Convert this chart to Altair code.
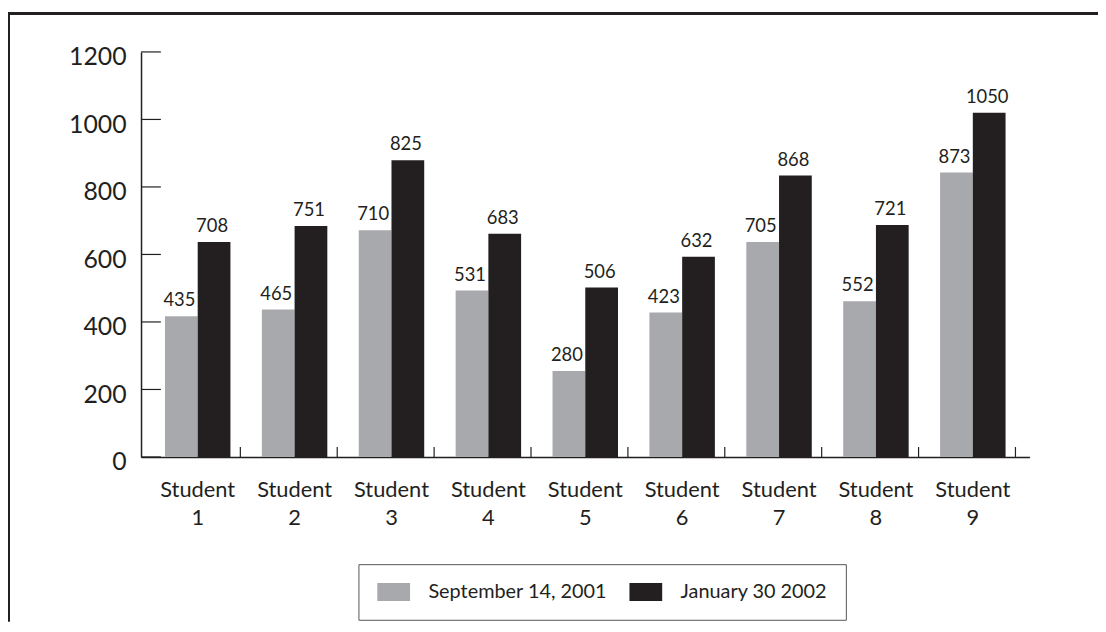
import altair as alt
import pandas as pd

# ---- data ----
students = ["Student 1", "Student 2", "Student 3", "Student 4", "Student 5",
            "Student 6", "Student 7", "Student 8", "Student 9"]
series = ["September 14, 2001", "January 30 2002"]
# bar heights as drawn
sep_bar = [417, 437, 672, 493, 255, 428, 637, 461, 843]
jan_bar = [637, 684, 879, 661, 502, 593, 834, 687, 1020]
# value labels as printed
sep_label = ["435", "465", "710", "531", "280", "423", "705", "552", "873"]
jan_label = ["708", "751", "825", "683", "506", "632", "868", "721", "1050"]
y_ticks = [0, 200, 400, 600, 800, 1000, 1200]

GRAY = "#a7a9ac"
BLACK = "#231f20"
FONT = "Lato"

rows = []
for s, v, l in zip(students, sep_bar, sep_label):
    rows.append({"student": s, "series": series[0], "value": v, "label": l})
for s, v, l in zip(students, jan_bar, jan_label):
    rows.append({"student": s, "series": series[1], "value": v, "label": l})
df = pd.DataFrame(rows)

W, H = 895, 408
PL, PT, PR, PB = 134, 42, 69, 166

x_enc = alt.X("student:N", sort=students,
              scale=alt.Scale(paddingInner=0, paddingOuter=0.085),
              axis=alt.Axis(title=None, ticks=False, labelAngle=0,
                            labelExpr="split(datum.label, ' ')",
                            labelFont=FONT, labelFontSize=22,
                            labelLineHeight=28, labelColor=BLACK,
                            labelPadding=23, domainColor=BLACK,
                            domainWidth=1.5))
y_enc = alt.Y("value:Q",
              scale=alt.Scale(domain=[0, 1200], nice=False),
              axis=alt.Axis(title=None, values=y_ticks, ticks=False,
                            format="d",
                            grid=False, labelFont=FONT, labelFontSize=25,
                            labelColor=BLACK, labelPadding=15,
                            labelOffset=5, domainColor=BLACK,
                            domainWidth=1.5))
xoff = alt.XOffset("series:N", sort=series,
                   scale=alt.Scale(domain=series, paddingOuter=0.48,
                                   paddingInner=0))

base = alt.Chart(df)

bars = base.mark_bar(cornerRadius=0).encode(
    x=x_enc,
    y=y_enc,
    xOffset=xoff,
    color=alt.Color("series:N", sort=series,
                    scale=alt.Scale(domain=series, range=[GRAY, BLACK]),
                    legend=alt.Legend(
                        orient="none", legendX=219, legendY=516,
                        direction="horizontal", title=None,
                        strokeColor="#555555", padding=18,
                        symbolType="M-1.833,-1H1.833V1H-1.833Z",
                        symbolSize=324, symbolOffset=7.5,
                        symbolStrokeWidth=0, symbolOpacity=1,
                        labelOffset=25, columnPadding=21,
                        labelFont=FONT, labelFontSize=20,
                        labelColor=BLACK, labelLimit=400)),
)

labels = base.mark_text(font=FONT, fontSize=18.5, color=BLACK,
                        baseline="alphabetic", align="center",
                        dy=-10, dx=-2).encode(
    x=alt.X("student:N", sort=students),
    y=alt.Y("value:Q"),
    xOffset=alt.XOffset("series:N", sort=series),
    text="label:N",
)

# inward tick marks on the x axis (category boundaries)
xticks = alt.Chart(pd.DataFrame({"student": students})).mark_rule(
    color=BLACK, strokeWidth=1.2).encode(
    x=alt.X("student:N", sort=students, bandPosition=0.94),
    y=alt.value(H),
    y2=alt.value(H - 10),
)

# inward tick marks on the y axis
yticks = alt.Chart(pd.DataFrame({"value": y_ticks})).mark_rule(
    color=BLACK, strokeWidth=1.2).encode(
    y=alt.Y("value:Q"),
    x=alt.value(0),
    x2=alt.value(20),
)

# outer frame (top and left edges)
one = pd.DataFrame({"a": [0]})
frame_top = alt.Chart(one).mark_rule(color=BLACK, strokeWidth=3).encode(
    x=alt.value(-PL), x2=alt.value(W + PR), y=alt.value(-38.8))
frame_left = alt.Chart(one).mark_rule(color=BLACK, strokeWidth=3).encode(
    x=alt.value(-PL + 0.5), y=alt.value(-40), y2=alt.value(H + PB))

chart = alt.layer(bars, labels, xticks, yticks, frame_top, frame_left).properties(
    width=W, height=H,
    padding={"left": PL, "top": PT, "right": PR, "bottom": PB},
    autosize=alt.AutoSizeParams(type="none"),
    background="white",
).configure_view(stroke=None)

chart.save("out.html", embed_options={"renderer": "svg", "actions": False})
